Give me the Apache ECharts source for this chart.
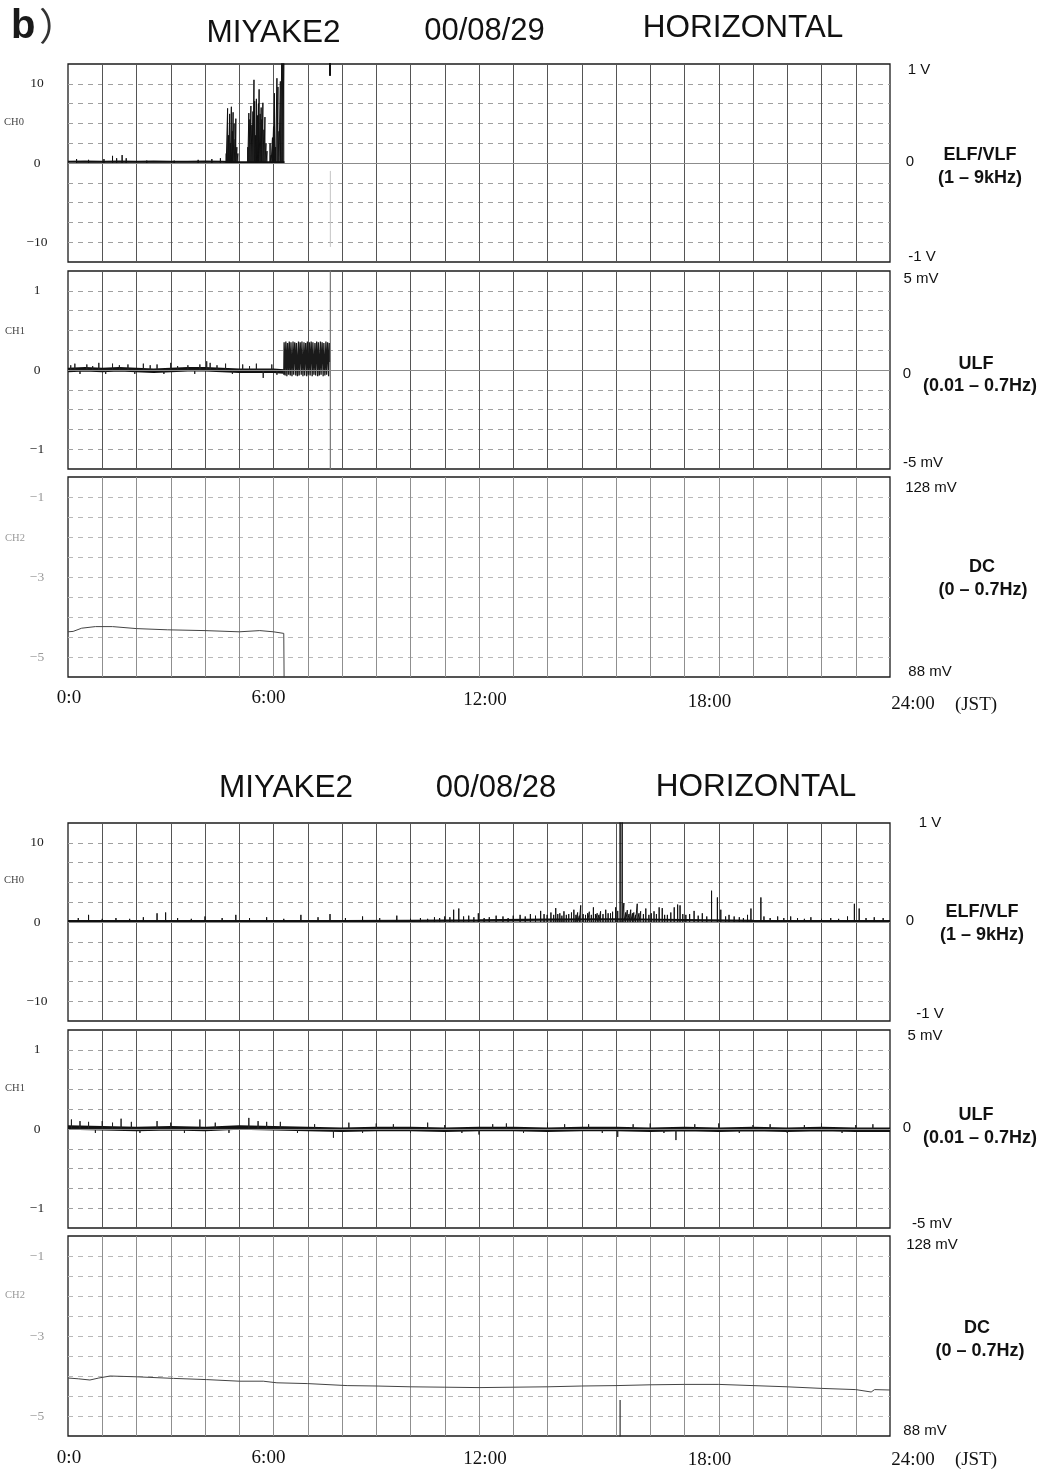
<!DOCTYPE html>
<html>
<head>
<meta charset="utf-8">
<title>MIYAKE2 HORIZONTAL</title>
<script src="https://cdn.jsdelivr.net/npm/echarts@6/dist/echarts.min.js"></script>
<style>
  html, body { margin: 0; padding: 0; background: #fff; }
  #chart { width: 1049px; height: 1472px; }
</style>
</head>
<body>
<div id="chart"></div>
<script>
// ---- labels -------------------------------------------------------------
const figureTag = 'b';
const stationName = 'MIYAKE2';
const componentName = 'HORIZONTAL';
const dayLabels = ['00/08/29', '00/08/28'];
const timeTicks = [0, 6, 12, 18, 24];
const timeTickLabels = ['0:0', '6:00', '12:00', '18:00', '24:00'];
const timeZone = '(JST)';
const channelNames = ['CH0', 'CH1', 'CH2'];
const ch0Ticks = [-10, 0, 10];
const ch1Ticks = [-1, 0, 1];
const ch2Ticks = [-5, -3, -1];
const fullScaleTop = ['1 V', '5 mV', '128 mV'];
const fullScaleBottom = ['-1 V', '-5 mV', '88 mV'];
const zeroLabel = '0';
const bandNames = ['ELF/VLF', 'ULF', 'DC'];
const bandRanges = ['(1 – 9kHz)', '(0.01 – 0.7Hz)', '(0 – 0.7Hz)'];

// chart-paper ranges of each channel: [min, max, division]
const ch0Range = [-12.5, 12.5, 2.5];
const ch1Range = [-1.25, 1.25, 0.25];
const ch2Range = [-5.5, -0.5, 0.5];

// ---- 00/08/29 records ([hour, reading]) ----------------------------------
const day29Ch0Base = [[0,0.15],[0.5,0.2],[1,0.15],[1.5,0.2],[2,0.15],[2.5,0.2],[3,0.15],[3.5,0.15],[4,0.2],[4.5,0.15],[5,0.1],[5.5,0.1],[6,0.1],[6.32,0.1]];
const day29Ch0Spikes = [
  [0.25,0.5],[0.6,0.4],[1.05,0.5],[1.3,0.9],[1.42,0.6],[1.58,1.0],[1.7,0.6],[2.3,0.3],[3.1,0.3],[3.8,0.4],[4.2,0.5],[4.45,0.6],
  [4.62,1.2],[4.66,6.9],[4.69,3.5],[4.72,6.2],[4.74,2.5],[4.77,7.1],[4.8,4.0],[4.82,6.4],[4.85,5.0],[4.88,3.0],[4.9,5.6],[4.93,2.0],[4.96,1.2],
  [5.25,2.0],[5.28,6.3],[5.31,5.5],[5.34,7.2],[5.37,4.8],[5.4,6.5],[5.43,10.5],[5.45,7.8],[5.48,3.5],[5.5,8.1],[5.53,6.0],[5.56,7.5],[5.58,9.3],[5.61,6.2],[5.64,7.0],[5.66,5.5],[5.69,7.6],[5.72,4.2],[5.75,5.8],[5.78,2.5],[5.81,1.5],
  [5.9,2.5],[5.93,1.0],[5.97,3.2],[6.0,4.6],[6.03,8.8],[6.06,2.0],[6.1,10.7],[6.13,9.6],[6.16,4.0],[6.2,10.3],[6.24,13],[6.27,13],[6.3,13]
];
const day29Ch0Pen = [[7.65,13],[7.65,11]];
const day29Ch0Faint = [[7.66,-1],[7.66,-10.6]];

const day29Ch1Base = [[0,0.0],[0.5,0.01],[1,0.0],[1.5,0.01],[2,0.0],[2.5,-0.01],[3,0.0],[3.5,0.01],[4,0.01],[4.5,0.0],[5,-0.01],[5.5,-0.01],[6,-0.01],[6.3,-0.02]];
const day29Ch1Spikes = [
  [0.08,0.06],[0.2,0.08],[0.35,-0.05],[0.55,0.07],[0.72,0.05],[0.9,0.09],[1.1,-0.05],[1.3,0.08],[1.5,0.06],[1.75,0.07],[1.95,-0.05],
  [2.2,0.08],[2.4,0.06],[2.6,0.07],[2.8,-0.05],[3.0,0.09],[3.2,0.05],[3.5,0.06],[3.7,-0.05],[3.85,0.07],[4.05,0.11],[4.15,0.09],
  [4.35,0.06],[4.6,0.08],[4.8,-0.05],[5.1,0.07],[5.3,0.05],[5.5,0.08],[5.7,-0.1],[5.95,0.07],[6.1,-0.06]
];
const day29Ch1Burst = [
  [6.30,-0.06],[6.31,0.35],[6.34,-0.07],[6.36,0.36],[6.39,-0.08],[6.41,0.34],[6.44,-0.06],[6.46,0.36],[6.49,-0.07],[6.51,0.35],
  [6.54,-0.08],[6.57,0.36],[6.59,-0.06],[6.62,0.35],[6.65,-0.07],[6.67,0.34],[6.70,-0.08],[6.73,0.36],[6.75,-0.07],[6.78,0.35],
  [6.81,-0.06],[6.83,0.36],[6.86,-0.08],[6.89,0.35],[6.91,-0.07],[6.94,0.34],[6.97,-0.08],[6.99,0.36],[7.02,-0.06],[7.05,0.35],
  [7.07,-0.07],[7.10,0.36],[7.13,-0.08],[7.15,0.35],[7.18,-0.06],[7.21,0.34],[7.23,-0.07],[7.26,0.36],[7.29,-0.08],[7.31,0.35],
  [7.34,-0.07],[7.37,0.36],[7.39,-0.06],[7.42,0.35],[7.45,-0.08],[7.47,0.34],[7.50,-0.07],[7.53,0.36],[7.55,-0.06],[7.58,0.35],
  [7.61,-0.08],[7.63,0.34],[7.65,0.1]
];
const day29Ch1Pen = [[7.66,1.3],[7.66,-1.3]];

const day29Ch2 = [[0,-4.37],[0.15,-4.36],[0.4,-4.28],[0.8,-4.24],[1.3,-4.24],[2.0,-4.29],[2.9,-4.32],[4.0,-4.34],[5.0,-4.37],[5.6,-4.34],[6.0,-4.37],[6.3,-4.41],[6.31,-5.6]];

// ---- 00/08/28 records ----------------------------------------------------
const day28Ch0Base = [[0,0.1],[2,0.12],[4,0.1],[6,0.12],[8,0.1],[10,0.15],[12,0.2],[14,0.3],[16,0.35],[18,0.25],[20,0.15],[22,0.1],[24,0.1]];
const day28Ch0Spikes = [
  [0.3,0.5],[0.6,0.9],[1.0,0.4],[1.4,0.5],[1.8,0.4],[2.2,0.6],[2.6,1.1],[2.85,1.2],[3.2,0.5],[3.6,0.4],[4.0,0.7],[4.5,0.5],
  [4.9,0.9],[5.3,0.5],[5.8,0.6],[6.3,0.4],[6.8,0.9],[7.3,0.6],[7.65,1.0],[8.1,0.5],[8.6,0.7],[9.1,0.5],[9.6,0.8],[10.0,0.4],
  [10.29,0.5],[10.5,0.4],[10.7,0.6],[10.85,0.5],[11.0,0.7],[11.15,0.6],[11.26,1.55],[11.41,1.7],[11.55,0.7],[11.7,0.8],[11.85,0.6],[11.98,1.1],
  [12.15,0.5],[12.3,0.6],[12.5,0.8],[12.7,0.7],[12.85,0.5],[13.0,0.8],[13.2,0.9],[13.35,0.7],
  [13.5,1.0],[13.65,0.8],[13.8,1.4],[13.9,1.0],[13.99,0.9],[14.1,1.2],[14.18,0.9],[14.24,1.75],[14.3,1.0],[14.36,1.1],[14.42,0.8],[14.48,1.35],
  [14.55,0.9],[14.62,1.0],[14.7,1.2],[14.77,1.55],[14.83,0.9],[14.88,1.2],[14.93,0.8],[14.97,2.1],
  [15.04,1.0],[15.11,0.9],[15.17,1.1],[15.22,1.3],[15.28,0.9],[15.34,1.85],[15.4,1.0],[15.45,1.1],[15.5,0.9],[15.55,1.35],[15.62,1.0],
  [15.7,1.55],[15.77,1.1],[15.84,1.1],[15.9,1.3],[15.99,1.85],[16.05,1.4],
  [16.12,13],[16.18,13],[16.23,2.4],[16.28,1.2],[16.33,1.5],[16.38,1.0],[16.43,1.55],[16.48,1.1],[16.52,1.2],[16.57,0.9],[16.62,2.3],[16.67,1.1],
  [16.72,1.35],[16.8,1.0],[16.87,1.7],[16.96,0.9],[17.03,1.1],
  [17.11,1.35],[17.18,1.0],[17.26,1.85],[17.35,1.75],[17.42,0.9],[17.5,0.9],[17.6,1.2],[17.7,1.85],[17.8,2.2],[17.87,2.1],[17.95,1.0],
  [18.04,0.9],[18.15,1.0],[18.28,1.4],
  [18.4,0.8],[18.52,1.1],[18.65,0.7],[18.79,3.95],[18.96,3.1],[19.06,1.55],[19.2,0.7],[19.3,0.9],[19.45,0.7],[19.6,0.6],[19.72,0.5],[19.84,0.9],[19.94,1.7],[20.23,3.1],
  [20.32,0.7],[20.5,0.5],[20.72,0.7],[20.9,0.5],[21.1,0.7],[21.3,0.5],[21.5,0.4],[21.69,0.6],[22.0,0.4],[22.27,0.5],[22.5,0.4],
  [22.76,0.7],[22.96,2.3],[23.1,1.7],[23.3,0.5],[23.54,0.6],[23.8,0.5]
];

const day28Ch1Base = [[0,0.02],[1,0.01],[2,0.0],[3,0.01],[4,0.0],[5,0.02],[6,0.01],[7,0.0],[8,-0.01],[9,0.0],[10,0.0],[11,-0.01],[12,0.0],[13,0.0],[14,-0.01],[15,0.0],[16,0.0],[17,-0.01],[18,0.0],[19,-0.01],[20,0.0],[21,-0.01],[22,0.0],[23,-0.01],[24,-0.01]];
const day28Ch1Spikes = [
  [0.1,0.12],[0.35,0.1],[0.6,0.09],[0.8,-0.05],[1.0,0.1],[1.3,0.08],[1.55,0.13],[1.85,0.09],[2.1,-0.05],[2.6,0.1],[3.0,0.08],
  [3.4,-0.05],[3.85,0.12],[4.3,0.08],[4.7,-0.05],[5.28,0.14],[5.55,0.1],[5.8,0.09],[6.2,0.09],[6.7,-0.05],[7.2,0.06],[7.75,-0.11],
  [8.2,0.08],[8.6,-0.05],[9.0,0.07],[9.5,0.06],[10.0,-0.05],[10.5,0.08],[11.0,0.05],[11.5,-0.05],[12.0,-0.07],[12.4,0.06],[12.8,0.07],
  [13.3,-0.05],[14.0,0.08],[14.5,0.06],[15.2,0.06],[15.6,-0.05],[16.05,-0.1],[16.5,0.06],[17.0,0.07],[17.4,-0.05],[17.75,-0.14],
  [18.3,0.06],[19.0,0.07],[19.6,-0.05],[20.0,0.05],[20.5,0.06],[21.0,-0.05],[21.5,0.05],[22.0,0.07],[22.6,-0.05],[23.0,0.05],[23.5,0.06]
];

const day28Ch2 = [[0,-4.05],[0.3,-4.07],[0.64,-4.1],[0.9,-4.05],[1.23,-4.0],[2.0,-4.02],[3.08,-4.06],[4.05,-4.09],[5.0,-4.13],[5.7,-4.13],[6.1,-4.17],[7.0,-4.19],[8.15,-4.24],[9.0,-4.25],[10.0,-4.27],[11.0,-4.28],[12.0,-4.29],[13.0,-4.28],[14.0,-4.27],[15.0,-4.25],[16.0,-4.24],[17.0,-4.22],[18.0,-4.21],[19.0,-4.21],[20.0,-4.24],[21.0,-4.27],[22.0,-4.31],[23.0,-4.34],[23.45,-4.4],[23.55,-4.34],[24,-4.35]];
const day28Ch2Pen = [[16.12,-4.6],[16.12,-5.6]];

// ---- layout --------------------------------------------------------------
const SANS = '"Liberation Sans", Arial, Helvetica, sans-serif';
const SERIF = '"Liberation Serif", "Times New Roman", serif';
const panelTop = [0, 759];
const rows = [{ top: 64, height: 198 }, { top: 271, height: 198 }, { top: 477, height: 200 }];
const ranges = [ch0Range, ch1Range, ch2Range];
const tickSets = [ch0Ticks, ch1Ticks, ch2Ticks];
// horizontal nudges of the hour labels and their vertical drift on the sheet
const hourShift = [1, -5, 6, 25, 23];
const hourDrop = [[0, 0, 2, 4, 6], [0, 0, 1, 2, 2]];
const hourMargin = [11.5, 12.5];

function fmtNum(v) {
  return v < 0 ? '\u2212' + Math.abs(v) : String(v);
}

const grids = [], xAxes = [], yAxes = [];
for (let p = 0; p < 2; p++) {
  for (let r = 0; r < 3; r++) {
    const gi = p * 3 + r;
    grids.push({
      left: 68, width: 822,
      top: rows[r].top + panelTop[p], height: rows[r].height,
      show: true, borderColor: '#1c1c1c', borderWidth: 1.3, backgroundColor: 'transparent'
    });
    const rich = {};
    timeTickLabels.forEach((lab, k) => {
      const dx = hourShift[k];
      rich['h' + k] = {
        fontFamily: SERIF, fontSize: 19, color: '#111',
        padding: [hourDrop[p][k], dx < 0 ? -2 * dx : 0, 0, dx > 0 ? 2 * dx : 0]
      };
    });
    xAxes.push({
      type: 'value', gridIndex: gi, min: 0, max: 24, interval: 1,
      axisLine: { show: false }, axisTick: { show: false },
      splitLine: {
        show: true, showMinLine: false, showMaxLine: false,
        lineStyle: { color: r === 2 ? '#8f8f8f' : '#555', width: 1 }
      },
      axisLabel: {
        show: r === 2, margin: hourMargin[p], showMinLabel: true, showMaxLabel: true,
        formatter: (v) => {
          const k = timeTicks.findIndex(t => Math.abs(t - v) < 1e-6);
          return k < 0 ? '' : '{h' + k + '|' + timeTickLabels[k] + '}';
        },
        rich
      }
    });
    const rg = ranges[r];
    const ticks = tickSets[r];
    yAxes.push({
      type: 'value', gridIndex: gi, min: rg[0], max: rg[1], interval: rg[2],
      axisLine: { show: false }, axisTick: { show: false },
      splitLine: {
        show: true, showMinLine: false, showMaxLine: false,
        lineStyle: { color: r === 2 ? '#b8b8b8' : '#a0a0a0', width: 1, type: [5, 5] }
      },
      axisLabel: {
        margin: 31, align: 'center', fontFamily: SERIF, fontSize: 13.5,
        color: r === 2 ? '#999' : '#222',
        showMinLabel: true, showMaxLabel: true,
        formatter: (v) => ticks.some(t => Math.abs(t - v) < 1e-6) ? fmtNum(Math.round(v)) : ''
      }
    });
  }
}

function spikePath(spikes) {
  const out = [];
  spikes.forEach(([t, v]) => { out.push([t, 0], [t, v], [t, 0]); });
  return out;
}

function trace(gi, data, width, color, extra) {
  return Object.assign({
    type: 'line', xAxisIndex: gi, yAxisIndex: gi, data,
    showSymbol: false, symbol: 'none', silent: true, animation: false,
    lineStyle: { width, color }, clip: true
  }, extra || {});
}

const zeroLine = {
  markLine: {
    silent: true, symbol: 'none', animation: false,
    label: { show: false },
    lineStyle: { color: '#8c8c8c', type: 'solid', width: 1 },
    data: [{ yAxis: 0 }]
  }
};

const series = [
  // 00/08/29
  trace(0, day29Ch0Base, 2, '#111', zeroLine),
  trace(0, spikePath(day29Ch0Spikes), 1, '#111'),
  trace(0, day29Ch0Pen, 2, '#111'),
  trace(0, day29Ch0Faint, 1, '#c4c4c4'),
  trace(1, day29Ch1Base, 4.5, '#111', zeroLine),
  trace(1, spikePath(day29Ch1Spikes), 1, '#222'),
  trace(1, day29Ch1Burst, 1.3, '#1a1a1a'),
  trace(1, day29Ch1Pen, 1.2, '#777'),
  trace(2, day29Ch2, 1, '#444'),
  // 00/08/28
  trace(3, day28Ch0Base, 2.2, '#111', zeroLine),
  trace(3, spikePath(day28Ch0Spikes), 1, '#111'),
  trace(4, day28Ch1Base, 4.5, '#111', zeroLine),
  trace(4, spikePath(day28Ch1Spikes), 1, '#222'),
  trace(5, day28Ch2, 1, '#444'),
  trace(5, day28Ch2Pen, 1.2, '#333')
];

// ---- text around the strips ---------------------------------------------
function txt(x, y, text, font, fill, align) {
  return {
    type: 'text', x, y, silent: true,
    style: { text, font, fill: fill || '#111', textAlign: align || 'center', textVerticalAlign: 'middle' }
  };
}

const titlePos = [
  [[273.5, 33], [484.5, 31], [743, 28]],
  [[286, 788], [496, 788], [756, 787]]
];
const sidePos = [
  { top: [[919, 70], [921, 279], [931, 488]], zero: [[910, 162], [907, 374]],
    name: [[980, 155], [976, 364], [982, 567]], range: [[980, 178], [980, 386], [983, 590]],
    bottom: [[922, 257], [923, 463], [930, 672]], ch: [[14, 122], [15, 331], [15, 538]], jst: [976, 705] },
  { top: [[930, 823], [925, 1036], [932, 1245]], zero: [[910, 921], [907, 1128]],
    name: [[982, 912], [976, 1115], [977, 1328]], range: [[982, 935], [980, 1138], [980, 1351]],
    bottom: [[930, 1014], [932, 1224], [925, 1431]], ch: [[14, 880], [15, 1088], [15, 1295]], jst: [976, 1460] }
];

const graphics = [
  txt(11, 27, figureTag, 'bold 40px ' + SANS, '#1a1a1a', 'left'),
  txt(39, 26, '\uFF09', '38px "Noto Sans CJK JP", sans-serif', '#333', 'left')
];
for (let p = 0; p < 2; p++) {
  const tp = titlePos[p];
  graphics.push(txt(tp[0][0], tp[0][1], stationName, '31.5px ' + SANS));
  graphics.push(txt(tp[1][0], tp[1][1], dayLabels[p], '31px ' + SANS));
  graphics.push(txt(tp[2][0], tp[2][1], componentName, '31.5px ' + SANS));
  const s = sidePos[p];
  for (let r = 0; r < 3; r++) {
    graphics.push(txt(s.top[r][0], s.top[r][1], fullScaleTop[r], '15px ' + SANS));
    graphics.push(txt(s.bottom[r][0], s.bottom[r][1], fullScaleBottom[r], '15px ' + SANS));
    graphics.push(txt(s.name[r][0], s.name[r][1], bandNames[r], 'bold 18px ' + SANS));
    graphics.push(txt(s.range[r][0], s.range[r][1], bandRanges[r], 'bold 18px ' + SANS));
    graphics.push(txt(s.ch[r][0], s.ch[r][1], channelNames[r], '10.5px ' + SERIF, r === 2 ? '#999' : '#444'));
  }
  for (let r = 0; r < 2; r++) {
    graphics.push(txt(s.zero[r][0], s.zero[r][1], zeroLabel, '15px ' + SANS));
  }
  graphics.push(txt(s.jst[0], s.jst[1], timeZone, '19px ' + SERIF));
}

const chart = echarts.init(document.getElementById('chart'), null, { renderer: 'canvas' });
chart.setOption({
  backgroundColor: '#ffffff',
  animation: false,
  grid: grids,
  xAxis: xAxes,
  yAxis: yAxes,
  series,
  graphic: graphics
});
</script>
</body>
</html>
